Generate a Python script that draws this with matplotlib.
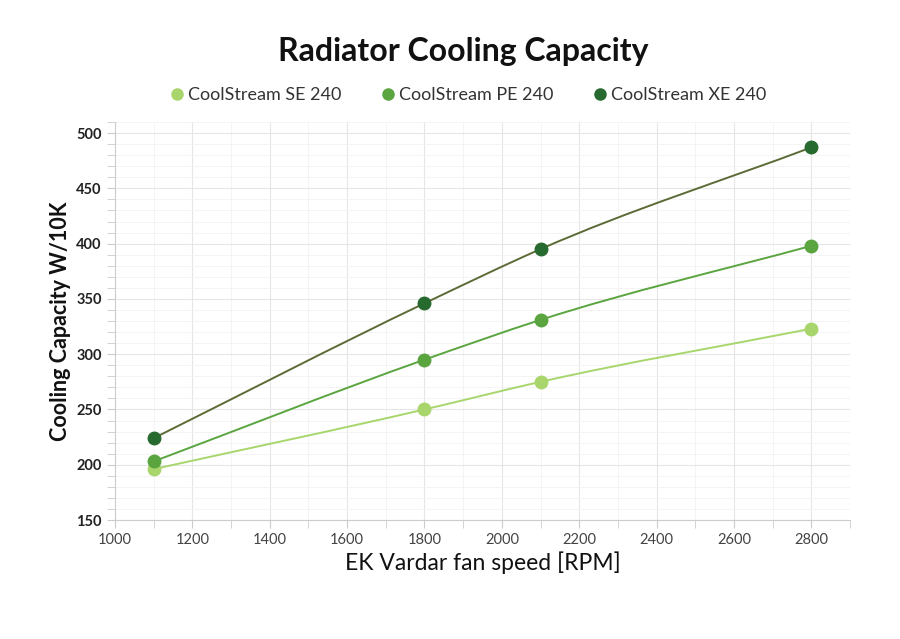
import numpy as np
import matplotlib
matplotlib.use("Agg")
import matplotlib.pyplot as plt
from matplotlib.path import Path
from matplotlib.patches import PathPatch
from matplotlib.lines import Line2D

plt.rcParams['font.family'] = ['Lato', 'DejaVu Sans']

# fan speed [RPM]
rpm = [1100, 1800, 2100, 2800]
se_240 = [196, 250, 275, 323]
pe_240 = [203, 295, 331, 398]
xe_240 = [224, 346, 395, 487]

series_names = ["CoolStream SE 240", "CoolStream PE 240", "CoolStream XE 240"]
marker_colors = ["#a8d66c", "#5aa53f", "#276a2f"]
line_colors = ["#a8d66c", "#5aa53f", "#5c6b36"]


def smooth_path(x, y):
    # hermite spline -> bezier segments, tangents from neighbouring secants
    x = np.asarray(x, float)
    y = np.asarray(y, float)
    sec = np.diff(y) / np.diff(x)
    m = np.empty(len(x))
    m[0], m[-1] = sec[0], sec[-1]
    for i in range(1, len(x) - 1):
        h0, h1 = x[i] - x[i - 1], x[i + 1] - x[i]
        m[i] = (sec[i - 1] * h1 + sec[i] * h0) / (h0 + h1)
    verts = [(x[0], y[0])]
    codes = [Path.MOVETO]
    for i in range(len(x) - 1):
        d = (x[i + 1] - x[i]) / 3
        verts += [(x[i] + d, y[i] + m[i] * d), (x[i + 1] - d, y[i + 1] - m[i + 1] * d), (x[i + 1], y[i + 1])]
        codes += [Path.CURVE4] * 3
    return Path(verts, codes)


fig = plt.figure(figsize=(9, 6.39), dpi=100)
ax = fig.add_axes([115 / 900, 1 - 520 / 639, 735 / 900, 398 / 639])

for vals, name, mc, lc in zip([se_240, pe_240, xe_240], series_names, marker_colors, line_colors):
    ax.add_patch(PathPatch(smooth_path(rpm, vals), facecolor="none", edgecolor=lc, lw=1.4, zorder=3))
    ax.plot(rpm, vals, ls="none", marker="o", ms=9, color=mc, zorder=4)

ax.set_xlim(1000, 2900)
ax.set_ylim(150, 510)
ax.set_xticks(range(1000, 2801, 200))
ax.set_xticks(range(1000, 2901, 100), minor=True)
ax.set_yticks(range(150, 501, 50))
ax.set_yticks(range(150, 511, 10), minor=True)

ax.grid(which="major", color="#e6e6e6", lw=0.8)
ax.grid(which="minor", color="#f3f3f3", lw=0.6)
ax.set_axisbelow(True)

for s in ["top", "right"]:
    ax.spines[s].set_visible(False)
for s in ["left", "bottom"]:
    ax.spines[s].set_color("#cccccc")
    ax.spines[s].set_linewidth(0.8)

ax.tick_params(axis="x", which="both", colors="#cccccc", labelcolor="#444444", labelsize=10.5, length=6)
ax.tick_params(axis="y", which="major", colors="#cccccc", labelcolor="#222222", labelsize=10.5, length=6)
ax.tick_params(axis="y", which="minor", colors="#cccccc", length=6)
for lbl in ax.get_yticklabels():
    lbl.set_fontweight("bold")

ax.set_xlabel("EK Vardar fan speed [RPM]", fontsize=16.5, color="#111111", labelpad=3)
ax.set_ylabel("Cooling Capacity W/10K", fontsize=15.5, color="#111111", fontweight="bold", labelpad=4)

fig.text(463 / 900, 1 - 52 / 639, "Radiator Cooling Capacity", ha="center", va="center",
         fontsize=23, fontweight="bold", color="#111111")

handles = [Line2D([], [], ls="none", marker="o", ms=8, color=c) for c in marker_colors]
fig.legend(handles, series_names, loc="center", bbox_to_anchor=(468 / 900, 1 - 95 / 639), ncol=3,
           frameon=False, fontsize=13, handletextpad=0.2, columnspacing=2.2, handlelength=0.8,
           labelcolor="#333333")

fig.savefig("out.png", dpi=100, facecolor="white")
